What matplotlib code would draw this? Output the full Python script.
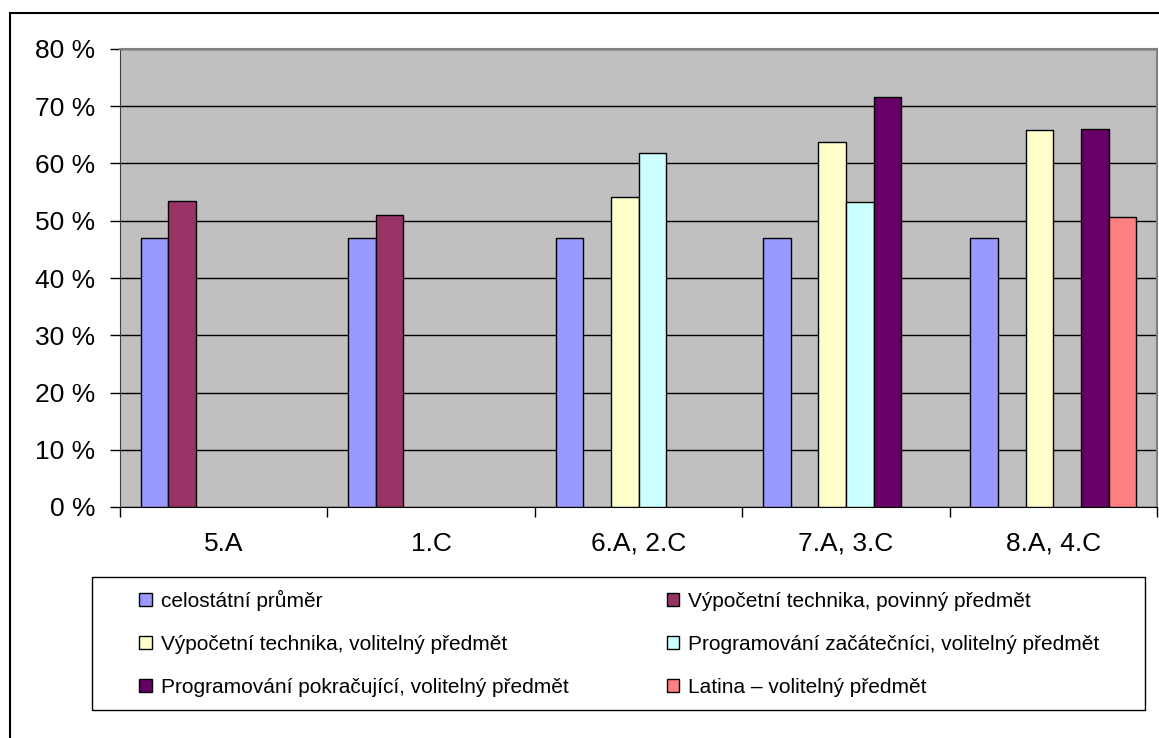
import numpy as np
import matplotlib
matplotlib.use("Agg")
import matplotlib.pyplot as plt
from matplotlib.patches import Rectangle

plt.rcParams['font.family'] = ['Liberation Sans', 'DejaVu Sans']

tridy = ["5.A", "1.C", "6.A, 2.C", "7.A, 3.C", "8.A, 4.C"]
serie = ["celostátní průměr",
         "Výpočetní technika, povinný předmět",
         "Výpočetní technika, volitelný předmět",
         "Programování začátečníci, volitelný předmět",
         "Programování pokračující, volitelný předmět",
         "Latina – volitelný předmět"]
barvy = ["#9999FF", "#993366", "#FFFFCC", "#CCFFFF", "#660066", "#FF8080"]

# hodnoty v procentech, nan = bez sloupce
prumer = [47.0, 47.0, 47.0, 47.0, 47.0]
vt_povinny = [53.4, 51.0, np.nan, np.nan, np.nan]
vt_volitelny = [np.nan, np.nan, 54.1, 63.8, 65.9]
prog_zac = [np.nan, np.nan, 61.8, 53.2, np.nan]
prog_pokr = [np.nan, np.nan, np.nan, 71.6, 66.1]
latina = [np.nan, np.nan, np.nan, np.nan, 50.7]
hodnoty = [prumer, vt_povinny, vt_volitelny, prog_zac, prog_pokr, latina]

fig = plt.figure(figsize=(11.59, 7.38), dpi=100)
ax = fig.add_axes([120/1159, 1-507/738, 1037/1159, 458/738])
ax.set_facecolor("#C0C0C0")

x = np.arange(len(tridy))
w = 0.8/6
handles = []
for i, (vals, b) in enumerate(zip(hodnoty, barvy)):
    h = ax.bar(x - 0.4 + w*(i+0.5), vals, w, color=b, edgecolor="black",
               linewidth=1, label=serie[i], zorder=3)
    handles.append(h)

ax.set_ylim(0, 80)
ax.set_xlim(-0.5, 4.5)
ax.set_yticks(np.arange(0, 81, 10))
ax.set_yticklabels([f"{v} %" for v in range(0, 81, 10)], fontsize=19)
ax.yaxis.grid(True, color="black", linewidth=1, zorder=1)
ax.set_axisbelow(True)
ax.tick_params(axis="y", length=7, width=1, pad=11, direction="out")

ax.set_xticks(np.arange(-0.5, 5, 1))
ax.set_xticklabels([])
ax.set_xticks(x, minor=True)
ax.set_xticklabels(tridy, minor=True, fontsize=19)
ax.tick_params(axis="x", which="major", length=7, width=1, direction="out")
ax.tick_params(axis="x", which="minor", length=0, pad=18)

for s in ["top", "right"]:
    ax.spines[s].set_color("#808080")
    ax.spines[s].set_linewidth(1.5)
ax.spines["left"].set_color("#404040")
ax.spines["bottom"].set_color("black")

# ramecek legendy
fig.patches.append(Rectangle((92/1159, 1-710/738), 1053/1159, 133/738,
                             transform=fig.transFigure, facecolor="white",
                             edgecolor="black", linewidth=1))

# legenda po radcich (2 sloupce)
poradi = [0, 2, 4, 1, 3, 5]
leg = fig.legend([handles[i] for i in poradi], [serie[i] for i in poradi],
                 ncol=2, loc="upper left", frameon=False,
                 bbox_to_anchor=(139/1159, 1-590/738),
                 fontsize=15, handlelength=0.6, handleheight=0.6,
                 handletextpad=0.45, labelspacing=1.15, columnspacing=4.7,
                 borderpad=0, borderaxespad=0)

# ramecek kolem grafu
fig.patches.append(Rectangle((10/1159, -0.1), 1.2, 1.1 - 13/738,
                             transform=fig.transFigure, fill=False,
                             edgecolor="black", linewidth=1.5))

fig.savefig("out.png", dpi=100)
